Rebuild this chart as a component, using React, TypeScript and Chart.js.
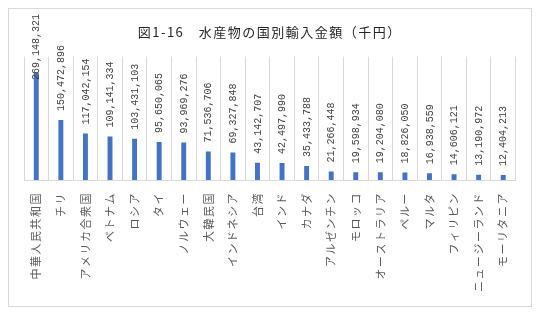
import React, { useEffect, useRef } from "react";
import { Chart, registerables } from "chart.js";

Chart.register(...registerables);

const titleText = "図1-16　水産物の国別輸入金額（千円）";

const categories = [
  "中華人民共和国",
  "チリ",
  "アメリカ合衆国",
  "ベトナム",
  "ロシア",
  "タイ",
  "ノルウェー",
  "大韓民国",
  "インドネシア",
  "台湾",
  "インド",
  "カナダ",
  "アルゼンチン",
  "モロッコ",
  "オーストラリア",
  "ペルー",
  "マルタ",
  "フィリピン",
  "ニュージーランド",
  "モーリタニア",
];

const values = [
  269148321, 150472896, 117042154, 109141334, 103431103, 95650065, 93969276,
  71536706, 69327848, 43142707, 42497990, 35433788, 21266448, 19598934,
  19204080, 18826050, 16938559, 14606121, 13190972, 12404213,
];

const yMax = 310000000;

const spacingPlugin = {
  id: "letterSpacing",
  beforeDraw(chart: any) {
    chart.ctx.letterSpacing = "1.5px";
  },
  beforeDatasetsDraw(chart: any) {
    chart.ctx.letterSpacing = "0px";
  },
};

const valueLabelPlugin = {
  id: "valueLabels",
  afterDatasetsDraw(chart: any) {
    const ctx = chart.ctx;
    const meta = chart.getDatasetMeta(0);
    ctx.save();
    ctx.letterSpacing = "0px";
    ctx.font = "10px 'Liberation Mono', 'DejaVu Sans Mono', monospace";
    ctx.fillStyle = "#404040";
    ctx.textAlign = "left";
    ctx.textBaseline = "middle";
    meta.data.forEach((bar: any, i: number) => {
      const txt = values[i].toLocaleString("en-US");
      const w = ctx.measureText(txt).width;
      let start = bar.y - 9;
      if (start - w < 5) start = 5 + w;
      ctx.save();
      ctx.translate(bar.x + 0.5, start);
      ctx.rotate(-Math.PI / 2);
      ctx.fillText(txt, 0, 0);
      ctx.restore();
    });
    ctx.restore();
  },
};

export default function App() {
  const ref = useRef<HTMLCanvasElement | null>(null);
  useEffect(() => {
    if (!ref.current) return;
    const chart = new Chart(ref.current, {
      type: "bar",
      data: {
        labels: categories,
        datasets: [
          {
            data: values,
            backgroundColor: "#4472C4",
            barPercentage: 0.2,
            categoryPercentage: 1,
          },
        ],
      },
      options: {
        animation: false,
        responsive: true,
        maintainAspectRatio: false,
        layout: { padding: { left: 15, right: 15.5, top: 0, bottom: 0 } },
        plugins: {
          legend: { display: false },
          tooltip: { enabled: false },
          title: {
            display: true,
            text: titleText,
            color: "#262626",
            font: { family: "'Noto Sans CJK JP'", size: 13, weight: "normal" },
            padding: { top: 15, bottom: 17 },
          },
        },
        scales: {
          x: {
            grid: { color: "#d9d9d9", drawTicks: false, offset: true },
            border: { display: true, color: "#d9d9d9" },
            ticks: {
              color: "#595959",
              font: { family: "'Noto Sans CJK JP'", size: 11 },
              maxRotation: 90,
              minRotation: 90,
              padding: 12,
              autoSkip: false,
            },
            afterFit(scale: any) {
              scale.height = 126;
            },
          },
          y: {
            display: false,
            min: 0,
            max: yMax,
          },
        },
      },
      plugins: [spacingPlugin, valueLabelPlugin],
    });
    return () => chart.destroy();
  }, []);
  return (
    <div
      style={{
        width: 524,
        height: 299,
        boxSizing: "border-box",
        border: "1px solid #d9d9d9",
        background: "#fff",
      }}
    >
      <div style={{ position: "relative", width: 522, height: 297 }}>
        <canvas ref={ref} />
      </div>
    </div>
  );
}
